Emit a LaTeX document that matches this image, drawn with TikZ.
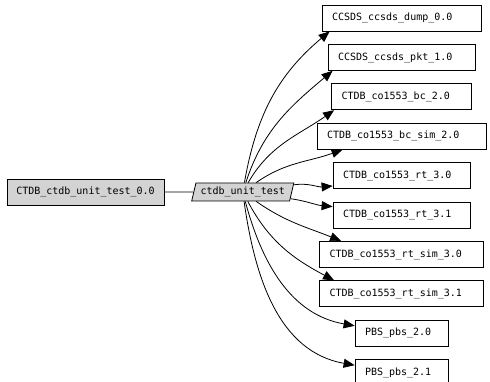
\documentclass[tikz,border=0pt]{standalone}
\usepackage{fontspec}
\setmonofont{DejaVu Sans Mono}
\usetikzlibrary{arrows.meta,positioning,shapes.geometric}
\definecolor{pkggray}{HTML}{D3D3D3}

\begin{document}
\begin{tikzpicture}[
  x=1pt, y=1pt,
  >={Triangle[length=11pt,width=9pt]},
  node distance=12.6pt and 29pt,
  every node/.style={font=\ttfamily\fontsize{10}{12}\selectfont},
  pkg/.style={draw, line width=0.8pt, inner xsep=10pt, inner ysep=0pt, minimum height=26pt, align=left, text width=#1},
  root/.style={draw, line width=0.8pt, fill=pkggray, inner sep=0pt, minimum width=157pt, minimum height=26pt},
  test/.style={trapezium, trapezium left angle=69, trapezium right angle=111, trapezium stretches=true, draw, line width=0.8pt, fill=pkggray, inner sep=0pt, minimum width=103pt, minimum height=18pt},
  dep/.style={->, line width=0.8pt}
]
\useasboundingbox (0,0) rectangle (490,382);
\node[root] (ctdb) at (85.5,190) {CTDB\_ctdb\_unit\_test\_0.0};
\node[test, right=of ctdb] (unit) {ctdb\_unit\_test};
\node[pkg=139pt] (dump) at (401.5,364) {CCSDS\_ccsds\_dump\_0.0};
\node[pkg=127pt, below=of dump] (pkt) {CCSDS\_ccsds\_pkt\_1.0};
\node[pkg=120pt, below=of pkt] (bc) {CTDB\_co1553\_bc\_2.0};
\node[pkg=149pt, below=of bc] (bcsim) {CTDB\_co1553\_bc\_sim\_2.0};
\node[pkg=117pt, below=of bcsim] (rta) {CTDB\_co1553\_rt\_3.0};
\node[pkg=117pt, below=of rta] (rtb) {CTDB\_co1553\_rt\_3.1};
\node[pkg=144pt, below=of rtb] (rtsima) {CTDB\_co1553\_rt\_sim\_3.0};
\node[pkg=144pt, below=of rtsima] (rtsimb) {CTDB\_co1553\_rt\_sim\_3.1};
\node[pkg=73pt, below=of rtsimb] (pbsa) {PBS\_pbs\_2.0};
\node[pkg=73pt, below=of pbsa] (pbsb) {PBS\_pbs\_2.1};
\draw[line width=0.8pt] (ctdb) -- (unit);
\draw[dep] (unit) to[out=80, in=220] ([xshift=8pt]dump.south west);
\draw[dep] (unit) to[out=72, in=220] ([xshift=5pt]pkt.south west);
\draw[dep] (unit) to[out=60, in=215] ([xshift=3pt]bc.south west);
\draw[dep] (unit) to[out=35, in=200] ([xshift=26pt]bcsim.south west);
\draw[dep] (unit) to[out=8, in=185] ([yshift=3pt]rta.south west);
\draw[dep] (unit) to[out=-8, in=175] ([yshift=-5pt]rtb.north west);
\draw[dep] (unit) to[out=-35, in=158] ([xshift=22pt]rtsima.north west);
\draw[dep] (unit) to[out=-62, in=152] ([xshift=15pt]rtsimb.north west);
\draw[dep] (unit) to[out=-75, in=170] ([yshift=-6pt]pbsa.north west);
\draw[dep] (unit) to[out=-82, in=170] ([yshift=-6pt]pbsb.north west);
\end{tikzpicture}
\end{document}
